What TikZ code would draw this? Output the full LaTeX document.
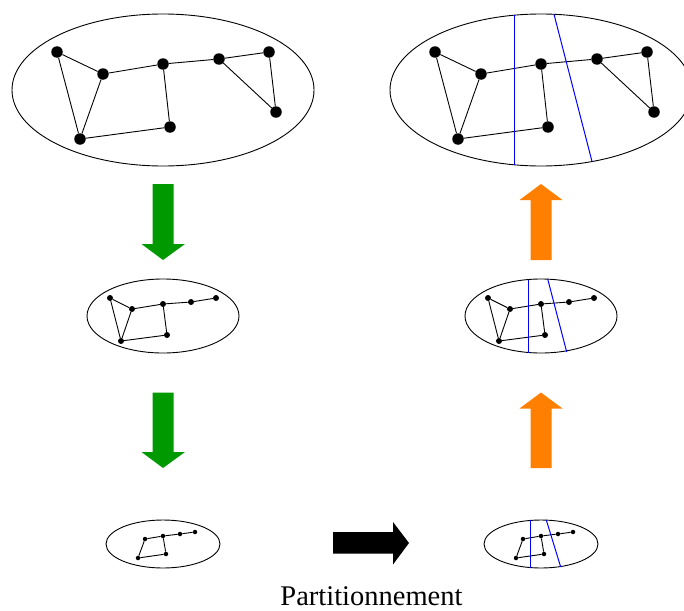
\documentclass[tikz,border=0pt]{standalone}
\usepackage{fontspec}
\setmainfont{Liberation Serif}
\definecolor{arrgreen}{RGB}{0,153,0}
\definecolor{arrorange}{RGB}{255,128,0}
\begin{document}
\begin{tikzpicture}[x=1pt,y=-1pt,
  bigv/.style={circle,fill=black,inner sep=0pt,minimum size=11.5pt},
  midv/.style={circle,fill=black,inner sep=0pt,minimum size=6pt},
  smallv/.style={circle,fill=black,inner sep=0pt,minimum size=4.5pt},
  edge/.style={draw=black,line width=0.9pt},
  hull/.style={draw=black,line width=0.9pt},
  cut/.style={draw=blue,line width=1.0pt},
  greenarrow/.style={fill=arrgreen},
  orangearrow/.style={fill=arrorange},
  blackarrow/.style={fill=black}]
\useasboundingbox (0,0) rectangle (684,610);

% ---------- top-left graph ----------
\draw[hull] (163,90) ellipse [x radius=151, y radius=76];
\node[bigv] (tlA) at (57,52) {};
\node[bigv] (tlB) at (103,74) {};
\node[bigv] (tlC) at (163,64) {};
\node[bigv] (tlD) at (219,59) {};
\node[bigv] (tlE) at (269,52) {};
\node[bigv] (tlF) at (276,112) {};
\node[bigv] (tlG) at (170,127) {};
\node[bigv] (tlH) at (80,139) {};
\draw[edge] (tlA) -- (tlB) (tlA) -- (tlH) (tlB) -- (tlH) (tlB) -- (tlC)
  (tlC) -- (tlG) (tlG) -- (tlH) (tlC) -- (tlD) (tlD) -- (tlE) (tlD) -- (tlF) (tlE) -- (tlF);

% ---------- top-right graph ----------
\draw[hull] (541,90) ellipse [x radius=151, y radius=76];
\node[bigv] (trA) at (435,52) {};
\node[bigv] (trB) at (481,74) {};
\node[bigv] (trC) at (541,64) {};
\node[bigv] (trD) at (597,59) {};
\node[bigv] (trE) at (647,52) {};
\node[bigv] (trF) at (654,112) {};
\node[bigv] (trG) at (548,127) {};
\node[bigv] (trH) at (458,139) {};
\draw[edge] (trA) -- (trB) (trA) -- (trH) (trB) -- (trH) (trB) -- (trC)
  (trC) -- (trG) (trG) -- (trH) (trC) -- (trD) (trD) -- (trE) (trD) -- (trF) (trE) -- (trF);
\coordinate (tc1a) at (514.5,15);
\coordinate (tc1b) at (514.5,165);
\coordinate (tc2a) at (554,14.3);
\coordinate (tc2b) at (592,161.5);
\draw[cut] (tc1a) -- (tc1b);
\draw[cut] (tc2a) -- (tc2b);

% ---------- middle-left graph ----------
\draw[hull] (163,316) ellipse [x radius=76, y radius=37];
\node[midv] (mlA) at (110,298) {};
\node[midv] (mlB) at (132,309) {};
\node[midv] (mlC) at (163,304) {};
\node[midv] (mlD) at (191,302) {};
\node[midv] (mlE) at (216,298) {};
\node[midv] (mlG) at (167,335) {};
\node[midv] (mlH) at (121,341) {};
\draw[edge] (mlA) -- (mlB) (mlA) -- (mlH) (mlB) -- (mlH) (mlB) -- (mlC)
  (mlC) -- (mlG) (mlG) -- (mlH) (mlC) -- (mlD) (mlD) -- (mlE);

% ---------- middle-right graph ----------
\draw[hull] (541,316) ellipse [x radius=76, y radius=37];
\node[midv] (mrA) at (488,298) {};
\node[midv] (mrB) at (510,309) {};
\node[midv] (mrC) at (541,304) {};
\node[midv] (mrD) at (569,302) {};
\node[midv] (mrE) at (594,298) {};
\node[midv] (mrG) at (545,335) {};
\node[midv] (mrH) at (499,341) {};
\draw[edge] (mrA) -- (mrB) (mrA) -- (mrH) (mrB) -- (mrH) (mrB) -- (mrC)
  (mrC) -- (mrG) (mrG) -- (mrH) (mrC) -- (mrD) (mrD) -- (mrE);
\coordinate (mc1a) at (528.5,279.5);
\coordinate (mc1b) at (528.5,352.5);
\coordinate (mc2a) at (547.7,279);
\coordinate (mc2b) at (566.7,352);
\draw[cut] (mc1a) -- (mc1b);
\draw[cut] (mc2a) -- (mc2b);

% ---------- bottom-left graph ----------
\draw[hull] (163,544) ellipse [x radius=57, y radius=24];
\node[smallv] (blB) at (145,539) {};
\node[smallv] (blC) at (163,536) {};
\node[smallv] (blD) at (180,534) {};
\node[smallv] (blE) at (195,532) {};
\node[smallv] (blG) at (166,554) {};
\node[smallv] (blH) at (138,558) {};
\draw[edge] (blB) -- (blC) (blC) -- (blD) (blD) -- (blE) (blC) -- (blG)
  (blG) -- (blH) (blH) -- (blB);

% ---------- bottom-right graph ----------
\draw[hull] (541,544) ellipse [x radius=57, y radius=24];
\node[smallv] (brB) at (523,539) {};
\node[smallv] (brC) at (541,536) {};
\node[smallv] (brD) at (558,534) {};
\node[smallv] (brE) at (573,532) {};
\node[smallv] (brG) at (544,554) {};
\node[smallv] (brH) at (516,558) {};
\draw[edge] (brB) -- (brC) (brC) -- (brD) (brD) -- (brE) (brC) -- (brG)
  (brG) -- (brH) (brH) -- (brB);
\coordinate (bc1a) at (530.5,520);
\coordinate (bc1b) at (530.5,567.5);
\coordinate (bc2a) at (546.3,520);
\coordinate (bc2b) at (560.7,567);
\draw[cut] (bc1a) -- (bc1b);
\draw[cut] (bc2a) -- (bc2b);

% ---------- block arrows ----------
\fill[greenarrow] (152.5,184) -- (173.5,184) -- (173.5,244) -- (185,244) -- (163,260) -- (141.5,244) -- (152.5,244) -- cycle;
\fill[greenarrow] (152.5,392.5) -- (173.5,392.5) -- (173.5,452) -- (185,452) -- (163,468) -- (141.5,452) -- (152.5,452) -- cycle;
\fill[orangearrow] (530.5,260) -- (551.5,260) -- (551.5,200) -- (562.5,200) -- (541,184) -- (519.5,200) -- (530.5,200) -- cycle;
\fill[orangearrow] (530.5,468) -- (551.5,468) -- (551.5,408.5) -- (562.5,408.5) -- (541,392.5) -- (519.5,408.5) -- (530.5,408.5) -- cycle;
\fill[blackarrow] (333,532) -- (393,532) -- (393,522) -- (409,543) -- (393,564.5) -- (393,553.5) -- (333,553.5) -- cycle;

% ---------- caption ----------
\node[anchor=base,inner sep=0pt,font=\fontsize{28.5}{31}\selectfont] (caption) at (371.5,605) {Partitionnement};
\end{tikzpicture}
\end{document}
